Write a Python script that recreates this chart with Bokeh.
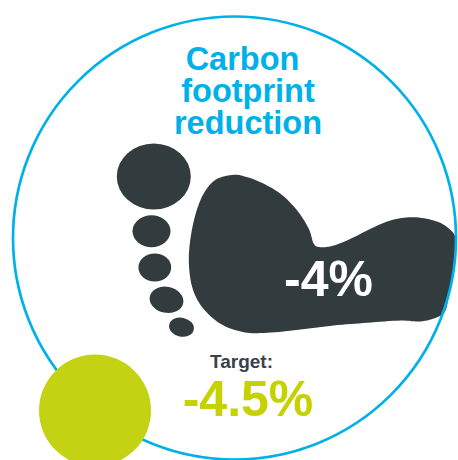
from bokeh.plotting import figure
from bokeh.models import Range1d
from bokeh.core.properties import value
from bokeh.embed import file_html
from bokeh.resources import INLINE
import numpy as np

title_lines = ["Carbon", "footprint", "reduction"]
title_x = [242, 247.5, 247.5]
title_y = [70, 102, 134]
actual_label = "-4%"
target_heading = "Target:"
target_label = "-4.5%"

foot_x = [233.3,216.7,205,196.7,190.7,188.3,191.7,201.7,220,243.3,266.7,300,333.3,366.7,400,420,436.7,445,449,454,455.5,446.7,433.3,413.3,393.3,373.3,350,333.3,320,313.3,308.3,296.7,280,260,243.3]
foot_y = [174.3,178.3,190,208.3,233.3,260,286.7,306.7,323.3,331.7,332.3,329,325,322.3,320,321,316.7,310,290,260,238.3,226.7,220,216.7,219,226.7,238.3,245,246.7,243.3,228.3,210,193.3,181.7,175.7]

toe_x = [153.3, 151, 154.3, 166, 181]
toe_y = [176, 230.7, 267, 299.3, 326.7]
toe_w = [74, 38, 32.7, 34, 25]
toe_h = [66, 32, 28, 26, 19]
toe_angle = [0, 0, 0, -0.2, -0.2]

ring_x, ring_y, ring_d = 234, 237.5, 443
dot_x, dot_y, dot_d = 94.5, 410, 112

BLUE = "#00B1E9"; DARK = "#323B3E"; LIME = "#C3D313"; LIME_T = "#C5D200"

def smooth(xs, ys, n=8):
    x = np.array(xs); y = np.array(ys); k = len(x); ox=[]; oy=[]
    for i in range(k):
        p0,p1,p2,p3 = [(i+d)%k for d in (-1,0,1,2)]
        for t in np.linspace(0,1,n,endpoint=False):
            f = lambda v: 0.5*(2*v[p1]+(v[p2]-v[p0])*t+(2*v[p0]-5*v[p1]+4*v[p2]-v[p3])*t*t+(3*v[p1]-v[p0]-3*v[p2]+v[p3])*t**3)
            ox.append(f(x)); oy.append(f(y))
    return ox, oy

p = figure(width=458, height=460, x_range=Range1d(0,458), y_range=Range1d(460,0),
           output_backend="svg", toolbar_location=None, min_border=0)
p.axis.visible = False
p.grid.visible = False
p.outline_line_color = None
p.background_fill_color = "white"

fx, fy = smooth(foot_x, foot_y)
p.patch(fx, fy, fill_color=DARK, line_color=None)
p.ellipse(toe_x,toe_y,width=toe_w,height=toe_h,angle=toe_angle,fill_color=DARK,line_color=None)
p.ellipse([ring_x],[ring_y],width=ring_d,height=ring_d,fill_color=None,line_color=BLUE,line_width=2.7)
p.ellipse([dot_x],[dot_y],width=dot_d,height=dot_d,fill_color=LIME,line_color=None)

F = value("Liberation Sans")
def label(xs, ys, txt, size, color, k=0.36):
    p.text(xs, ys, text=txt, text_font=F, text_font_style="bold", text_font_size=f"{size}px",
           text_color=color, text_align="center", text_baseline="alphabetic", y_offset=-k*size)
label(title_x, title_y, title_lines, 32.5, BLUE)
label([328], [298], [actual_label], 50, "white", 0.39)
label([241], [368], [target_heading], 19, "#3A4248")
label([247.5], [418], [target_label], 50, LIME_T, 0.39)

open("out.html","w").write(file_html(p, INLINE))
